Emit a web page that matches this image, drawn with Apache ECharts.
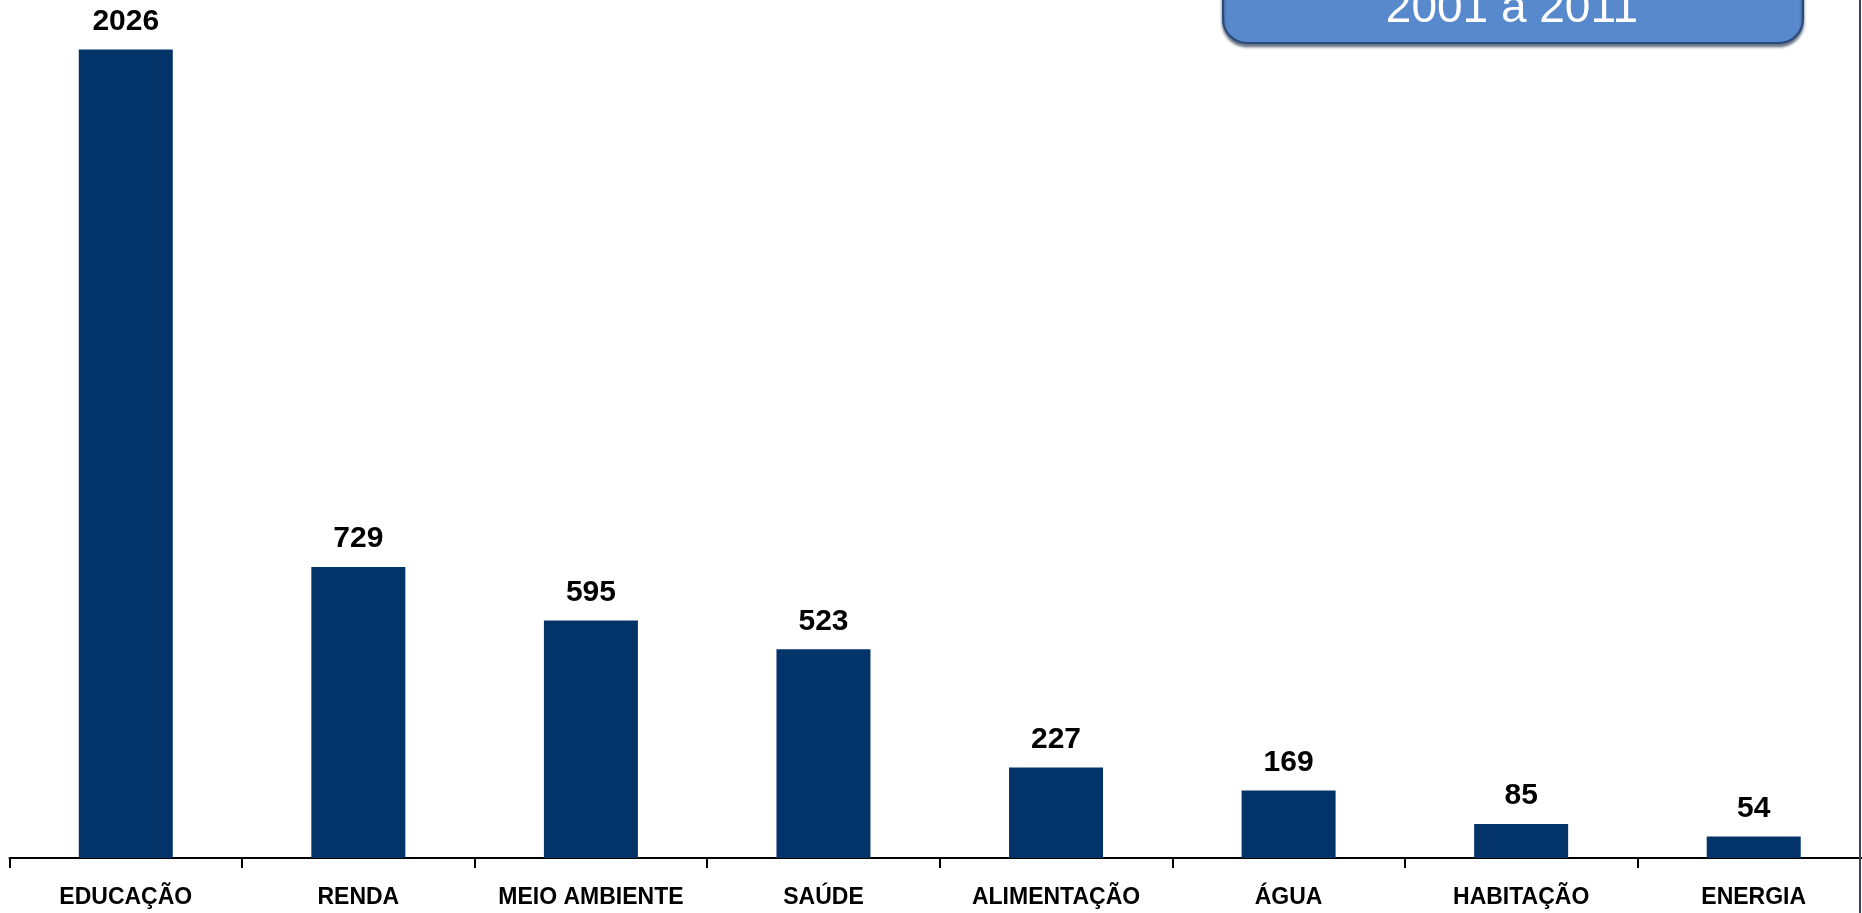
<!DOCTYPE html>
<html>
<head>
<meta charset="utf-8">
<title>Projetos por área</title>
<script src="https://cdn.jsdelivr.net/npm/echarts@6/dist/echarts.min.js"></script>
<style>
  html, body { margin: 0; padding: 0; background: #fff; overflow: hidden; }
  /* um pouco mais largo que a janela: o eixo continua além da borda direita */
  #chart { width: 1870px; height: 913px; }
</style>
</head>
<body>
<div id="chart"></div>
<script>
// categorias e valores
const categories = ['EDUCAÇÃO', 'RENDA', 'MEIO AMBIENTE', 'SAÚDE', 'ALIMENTAÇÃO', 'ÁGUA', 'HABITAÇÃO', 'ENERGIA']
const values = [2026, 729, 595, 523, 227, 169, 85, 54]
const periodo = '2001 a 2011'

const chart = echarts.init(document.getElementById('chart'))

const option = {
  animation: false,
  grid: { left: 9.5, right: 0, top: 0, bottom: 55 },
  xAxis: {
    type: 'category',
    data: categories,
    axisLine: { lineStyle: { color: '#000', width: 2 } },
    axisTick: { show: true, length: 10, lineStyle: { color: '#000', width: 2 } },
    axisLabel: {
      interval: 0,
      margin: 28,
      color: '#000',
      fontFamily: 'Liberation Sans, Arial, sans-serif',
      fontWeight: 'bold',
      fontSize: 23
    }
  },
  yAxis: {
    type: 'value',
    min: 0,
    max: 2150,
    show: false,
    splitLine: { show: false }
  },
  series: [
    {
      type: 'bar',
      data: values,
      barWidth: 94,
      itemStyle: { color: '#02346a' },
      label: {
        show: true,
        position: 'top',
        distance: 13,
        color: '#000',
        fontFamily: 'Liberation Sans, Arial, sans-serif',
        fontWeight: 'bold',
        fontSize: 30
      }
    }
  ],
  graphic: [
    // caixa do período no canto superior direito
    {
      type: 'rect',
      shape: { x: 1223, y: -40, width: 580, height: 83, r: 24 },
      style: {
        fill: '#5889cc',
        stroke: '#2c4a78',
        lineWidth: 2,
        shadowBlur: 3,
        shadowOffsetY: 3,
        shadowColor: 'rgba(10,30,60,0.6)'
      },
      z: 10
    },
    {
      type: 'text',
      x: 1512,
      y: 9,
      style: {
        text: periodo,
        fill: '#fff',
        font: '46px "Liberation Sans", Arial, sans-serif',
        textAlign: 'center',
        textVerticalAlign: 'middle'
      },
      z: 11
    },
    // borda à direita
    {
      type: 'line',
      shape: { x1: 1860, y1: 0, x2: 1860, y2: 913 },
      style: { stroke: '#3a4360', lineWidth: 2 },
      z: 10
    }
  ]
}

chart.setOption(option)
</script>
</body>
</html>
